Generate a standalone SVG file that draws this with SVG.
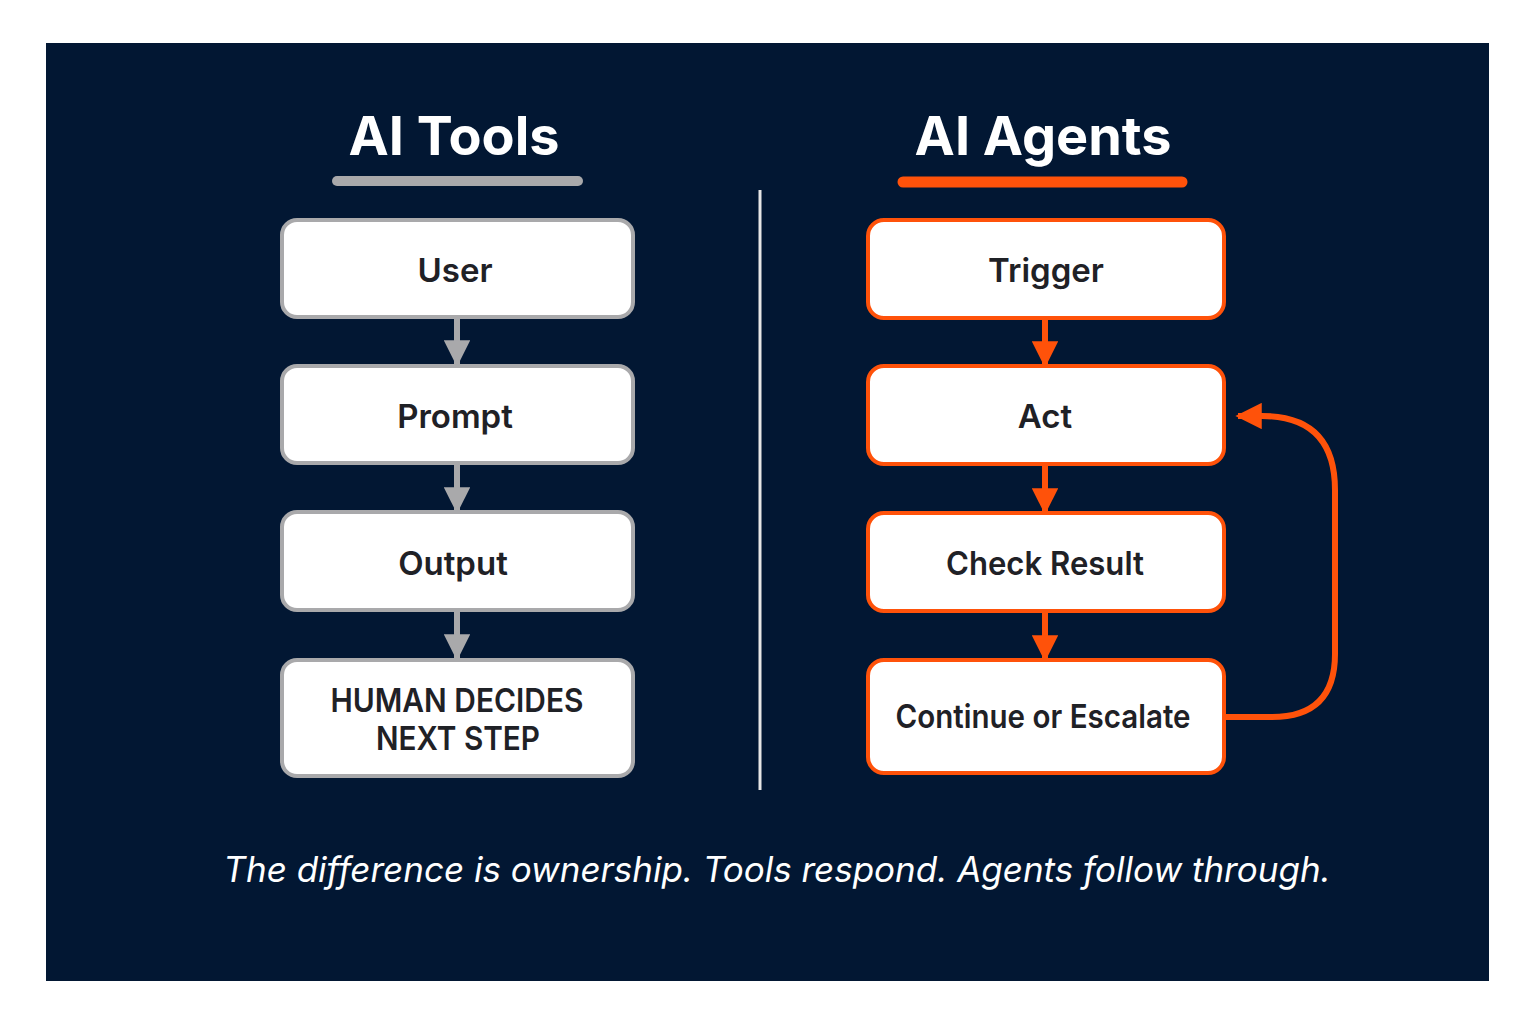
<svg xmlns="http://www.w3.org/2000/svg" width="1536" height="1024" viewBox="0 0 1536 1024">
<defs>
<style>
.title{font-family:Inter,"Noto Sans","DejaVu Sans",sans-serif;font-weight:700;font-size:54px;fill:#ffffff;text-anchor:middle}
.lbl{font-family:Inter,"Noto Sans","DejaVu Sans",sans-serif;font-weight:600;font-size:33px;fill:#1f2126;text-anchor:middle}
.cap{font-family:Inter,"Noto Sans","DejaVu Sans",sans-serif;font-style:italic;font-size:35px;fill:#ffffff;text-anchor:middle}
.gbox{fill:#ffffff;stroke:#a9a9ab;stroke-width:4}
.obox{fill:#ffffff;stroke:#ff520a;stroke-width:4}
.gline{stroke:#a9a9ab;stroke-width:6;fill:none}
.oline{stroke:#ff520a;stroke-width:6;fill:none}
</style>
<marker id="ga" viewBox="0 0 10 10" refX="9" refY="5" markerWidth="4.4" markerHeight="4.4" markerUnits="strokeWidth" orient="auto"><path d="M0,0 L10,5 L0,10 Z" fill="#a9a9ab"/></marker>
<marker id="oa" viewBox="0 0 10 10" refX="9" refY="5" markerWidth="4.4" markerHeight="4.4" markerUnits="strokeWidth" orient="auto"><path d="M0,0 L10,5 L0,10 Z" fill="#ff520a"/></marker>
</defs>
<rect x="0" y="0" width="1536" height="1024" fill="#ffffff"/>
<rect x="46" y="43" width="1443" height="938" fill="#021733"/>

<g id="titles">
<text class="title" x="454" y="155">AI Tools</text>
<line x1="337" y1="181" x2="578" y2="181" stroke="#a9a9ab" stroke-width="10" stroke-linecap="round"/>
<text class="title" x="1043" y="155">AI Agents</text>
<line x1="903" y1="182" x2="1182" y2="182" stroke="#ff520a" stroke-width="11" stroke-linecap="round"/>
</g>

<line id="divider" x1="760" y1="190" x2="760" y2="790" stroke="#e6e6e6" stroke-width="3"/>

<g id="connectors">
<line class="gline" x1="457" y1="318" x2="457" y2="364" marker-end="url(#ga)"/>
<line class="gline" x1="457" y1="464" x2="457" y2="511" marker-end="url(#ga)"/>
<line class="gline" x1="457" y1="611" x2="457" y2="658" marker-end="url(#ga)"/>
<line class="oline" x1="1045" y1="319" x2="1045" y2="365" marker-end="url(#oa)"/>
<line class="oline" x1="1045" y1="465" x2="1045" y2="512" marker-end="url(#oa)"/>
<line class="oline" x1="1045" y1="612" x2="1045" y2="659" marker-end="url(#oa)"/>
<path class="oline" d="M1226,717 H1272 Q1335,717 1335,654 V490 Q1335,416 1262,416 H1238" marker-end="url(#oa)"/>
</g>

<g id="node-user"><rect class="gbox" x="282" y="220" width="351" height="97" rx="15"/><text class="lbl" x="455" y="282">User</text></g>
<g id="node-prompt"><rect class="gbox" x="282" y="366" width="351" height="97" rx="15"/><text class="lbl" x="455" y="428">Prompt</text></g>
<g id="node-output"><rect class="gbox" x="282" y="512" width="351" height="98" rx="15"/><text class="lbl" x="453" y="575">Output</text></g>
<g id="node-human"><rect class="gbox" x="282" y="660" width="351" height="116" rx="15"/><text class="lbl" x="457" y="712" font-size="31" textLength="253" lengthAdjust="spacingAndGlyphs">HUMAN DECIDES</text><text class="lbl" x="458" y="750" font-size="31" textLength="164" lengthAdjust="spacingAndGlyphs">NEXT STEP</text></g>

<g id="node-trigger"><rect class="obox" x="868" y="220" width="356" height="98" rx="16"/><text class="lbl" x="1046" y="282">Trigger</text></g>
<g id="node-act"><rect class="obox" x="868" y="366" width="356" height="98" rx="16"/><text class="lbl" x="1045" y="428">Act</text></g>
<g id="node-check"><rect class="obox" x="868" y="513" width="356" height="98" rx="16"/><text class="lbl" x="1045" y="575" textLength="198" lengthAdjust="spacingAndGlyphs">Check Result</text></g>
<g id="node-continue"><rect class="obox" x="868" y="660" width="356" height="113" rx="16"/><text class="lbl" x="1043" y="728" textLength="295" lengthAdjust="spacingAndGlyphs">Continue or Escalate</text></g>

<text class="cap" x="777" y="882">The difference is ownership. Tools respond. Agents follow through.</text>
</svg>
